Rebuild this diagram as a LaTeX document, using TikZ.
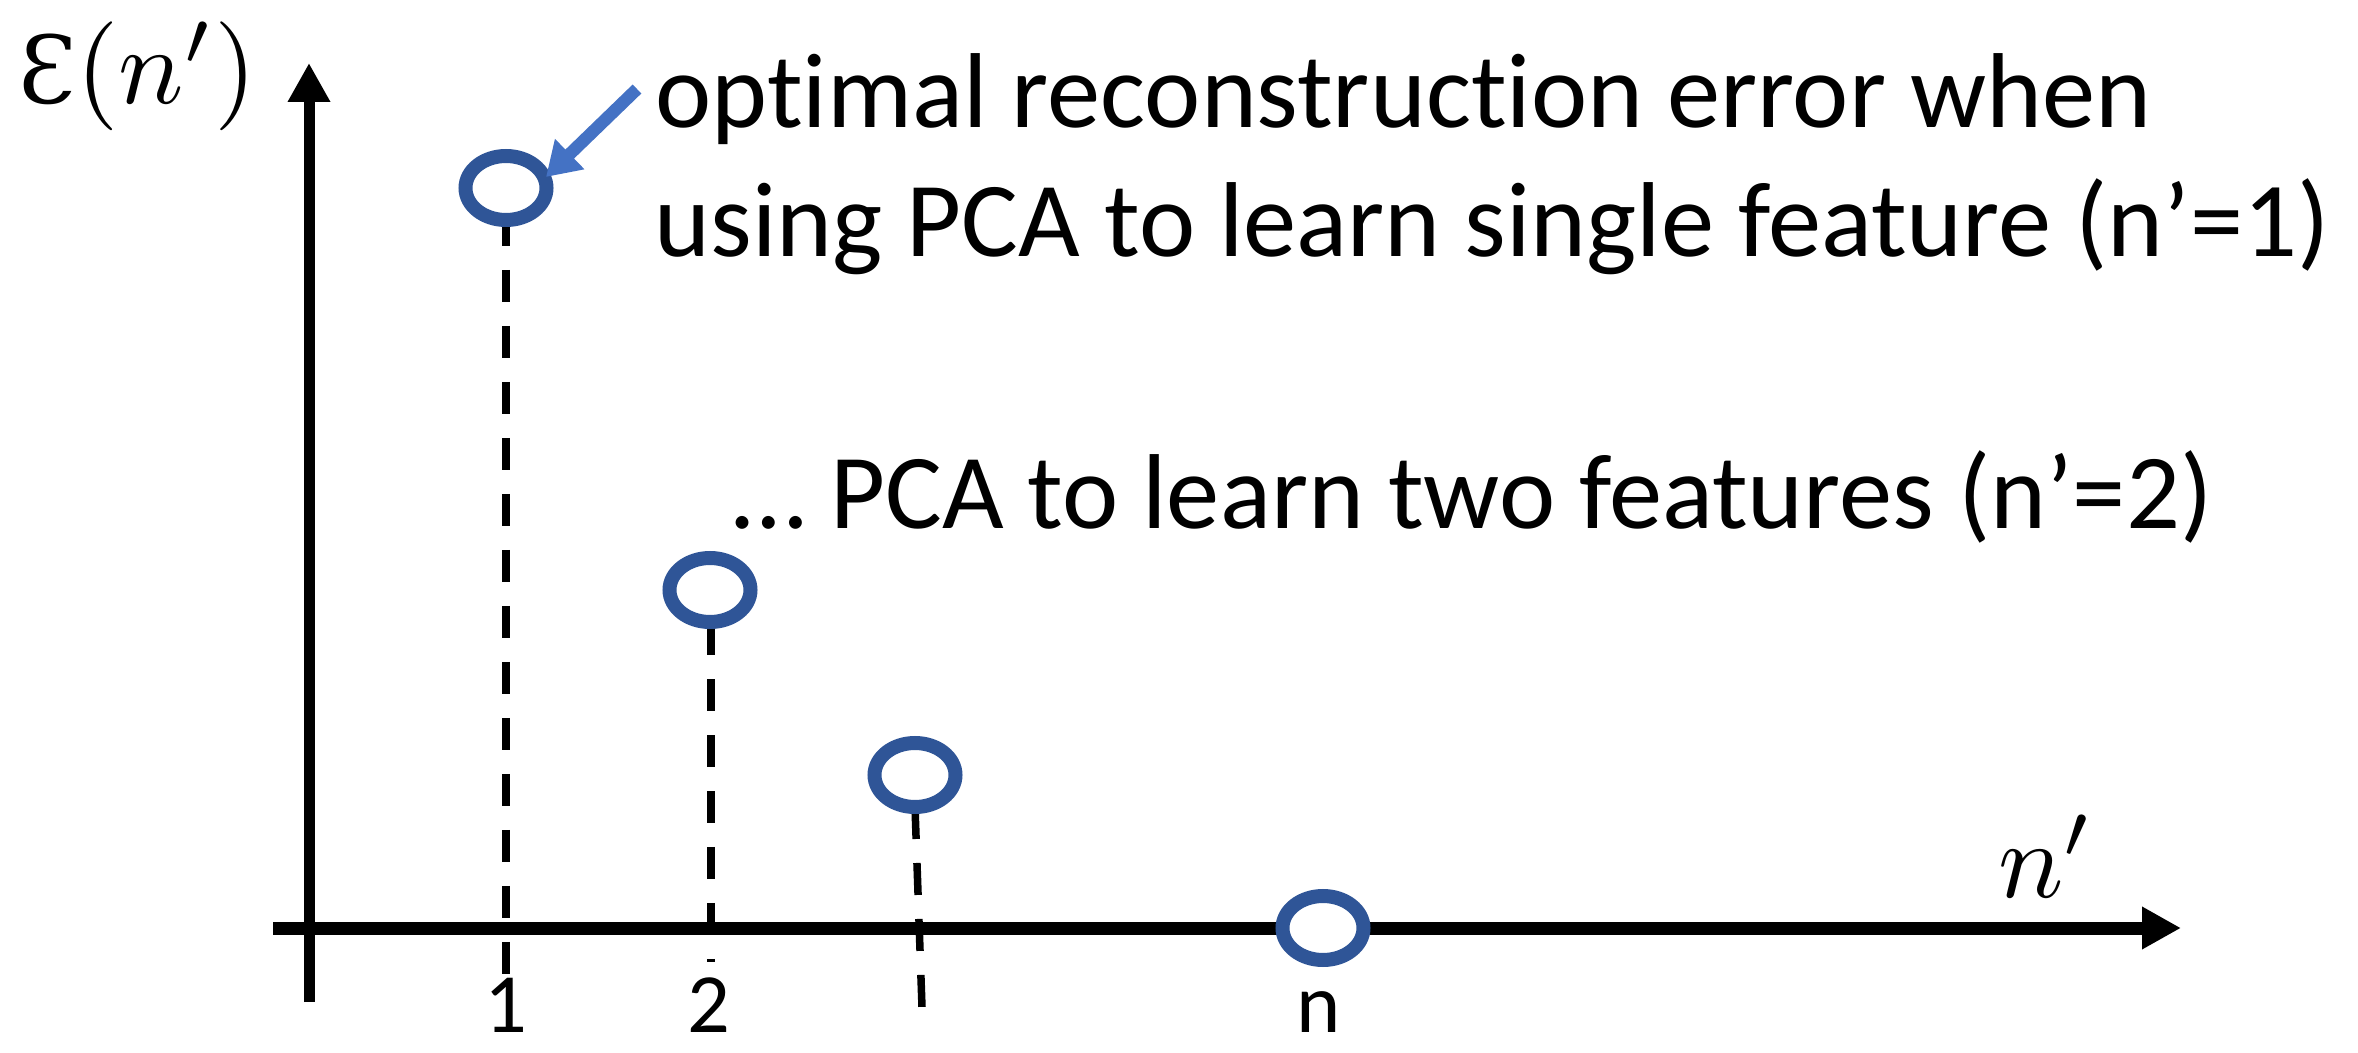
\documentclass[tikz,border=0pt]{standalone}
\usepackage{fontspec}
\setmainfont[Ligatures={NoCommon}]{Carlito}
\newfontfamily\epsfont{DejaVu Serif}
\usetikzlibrary{arrows.meta,shapes.geometric}
\definecolor{dotblue}{HTML}{2F5597}
\definecolor{arrblue}{HTML}{4472C4}
\begin{document}
\begin{tikzpicture}[x=0.1mm,y=-0.1mm,
  yaxis/.style={line width=1.1mm,-{Triangle[length=3.9mm,width=4mm]}},
  xaxis/.style={line width=1.3mm,-{Triangle[length=3.9mm,width=4mm]}},
  stem/.style={line width=0.75mm,dash pattern=on 3.2mm off 2.4mm},
  dot/.style={ellipse,draw=dotblue,line width=1.4mm,fill=white,minimum width=8.1mm,minimum height=6.4mm,inner sep=0pt},
  pointer/.style={draw=arrblue,line width=1.25mm,-{Triangle[length=3.3mm,width=4mm]},arrblue},
  lbl/.style={inner sep=0pt,font=\fontsize{30.3}{36}\selectfont},
  tick/.style={inner sep=0pt,anchor=base,font=\fontsize{24}{28}\selectfont},
  mlbl/.style={inner sep=0pt,scale=3.1}]
\useasboundingbox (0,0) rectangle (2358,1053);
% coordinates
\coordinate (ybot) at (309,1002);
\coordinate (ytop) at (309,63);
\coordinate (xleft) at (273,928);
\coordinate (xright) at (2181,928);
\coordinate (s1a) at (506,214);
\coordinate (s1b) at (506,974);
\coordinate (s2a) at (711,623);
\coordinate (s2b) at (711,962);
\coordinate (s3a) at (915,807);
\coordinate (s3b) at (922,1007);
% stems
\draw[stem] (s1a) -- (s1b);
\draw[stem] (s2a) -- (s2b);
\draw[stem] (s3a) -- (s3b);
% axes
\draw[yaxis] (ybot) -- (ytop);
\draw[xaxis] (xleft) -- (xright);
% points
\node[dot] (c1) at (506,188) {};
\node[dot] (c2) at (710,590) {};
\node[dot] (c3) at (915,775) {};
\node[dot] (c4) at (1323,928) {};
% pointer arrow
\coordinate (astart) at (637,89);
\coordinate (atip) at (546,177);
\draw[pointer] (astart) -- (atip);
% texts
\node[lbl,anchor=base west] (t1) at (655,128) {optimal reconstruction error when};
\node[lbl,anchor=base west] (t2) at (654,257) {using PCA to learn single feature (n’=1)};
\node[lbl,anchor=base west] (t3) at (732,529) {… PCA to learn two features (n’=2)};
% tick labels
\node[tick] (k1) at (506,1032) {1};
\node[tick] (k2) at (709,1032) {2};
\node[tick] (kn) at (1319,1032) {n};
% axis labels
\node[mlbl,anchor=base west] (ylab) at (16,104) {{\epsfont\fontsize{8.6}{10}\selectfont Ɛ}$(n')$};
\node[mlbl,anchor=base west] (xlab) at (1996,897) {$n'$};
\end{tikzpicture}
\end{document}
